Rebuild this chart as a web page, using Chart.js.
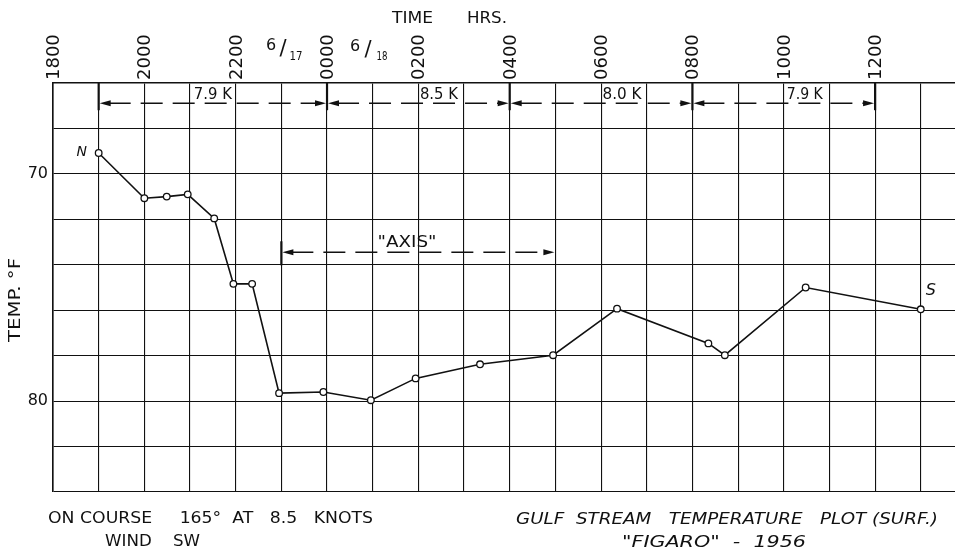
<!DOCTYPE html>
<html>
<head>
<meta charset="utf-8">
<script src="https://cdn.jsdelivr.net/npm/chart.js@4.4.1/dist/chart.umd.min.js"></script>
<style>
html,body{margin:0;padding:0;background:#fff;}
#wrap{width:955px;height:555px;position:relative;}
</style>
</head>
<body>
<div id="wrap"><canvas id="c"></canvas></div>
<script>
// ---- DATA ----
const hoursSince1800 = [1.0, 2.0, 2.49, 2.95, 3.53, 3.95, 4.36, 4.95, 5.92, 6.96, 7.94, 9.35, 10.95, 12.35, 14.35, 14.71, 16.48, 19.0];
const tempsF         = [69.08, 71.07, 71.0, 70.9, 71.96, 74.84, 74.84, 79.65, 79.6, 79.96, 79.0, 78.38, 77.98, 75.93, 77.46, 77.98, 75.0, 75.96];
const timeTickValues = [0,1,2,3,4,5,6,7,8,9,10,11,12,13,14,15,16,17,18,19];
const timeTickLabels = ['1800','','2000','','2200','','0000','','0200','','0400','','0600','','0800','','1000','','1200',''];
const tempTickValues = [66,68,70,72,74,76,78,80,82,84];
const tempTickLabels = ['','','70','','','','','80','',''];
const speedBandEdges  = [1, 6, 10, 14, 18];
const speedBandLabels = ['7.9 K', '8.5 K', '8.0 K', '7.9 K'];
const axisBandEdges   = [5, 11];
const axisBandLabel   = '"AXIS"';

// ---- helpers ----
const INK = '#111';
const FONT = '"DejaVu Sans", sans-serif';
function fitText(ctx, text, x, y, w, font, align) {
  ctx.save();
  ctx.font = font; ctx.textBaseline = 'middle'; ctx.textAlign = 'left'; ctx.fillStyle = INK;
  const m = ctx.measureText(text).width;
  const s = w ? w / m : 1;
  const tw = m * s;
  const x0 = align === 'left' ? x : (align === 'right' ? x - tw : x - tw / 2);
  ctx.translate(x0, y); ctx.scale(s, 1); ctx.fillText(text, 0, 0);
  ctx.restore();
}
function arrowHead(ctx, tipX, y, dir) {
  ctx.beginPath();
  ctx.moveTo(tipX, y);
  ctx.lineTo(tipX - dir * 11, y - 3);
  ctx.lineTo(tipX - dir * 11, y + 3);
  ctx.closePath(); ctx.fill();
}
function dashed(ctx, x1, x2, y) {
  ctx.save(); ctx.setLineDash([22, 10]); ctx.lineWidth = 1.4;
  ctx.beginPath(); ctx.moveTo(x1, y); ctx.lineTo(x2, y); ctx.stroke(); ctx.restore();
}
function vbar(ctx, x, y1, y2) {
  ctx.save(); ctx.lineWidth = 2.2; ctx.beginPath(); ctx.moveTo(x, y1); ctx.lineTo(x, y2); ctx.stroke(); ctx.restore();
}

const annotations = {
  id: 'annotations',
  afterDraw(chart) {
    const ctx = chart.ctx, xs = chart.scales.x, ys = chart.scales.y, area = chart.chartArea;
    ctx.save();
    ctx.strokeStyle = INK; ctx.fillStyle = INK;
    // speed bands
    const yb = ys.getPixelForValue(66.89);
    const labelShift = [0, 0.45, 0.46, 0.46];
    const labelWidth = [38, 38, 39, 36];
    for (let i = 0; i < speedBandLabels.length; i++) {
      const x1 = xs.getPixelForValue(speedBandEdges[i]);
      const x2 = xs.getPixelForValue(speedBandEdges[i + 1]);
      dashed(ctx, x1 + 10, x2 - 10, yb);
      arrowHead(ctx, x1 + 1, yb, -1);
      arrowHead(ctx, x2 - 1, yb, 1);
      const mid = (speedBandEdges[i] + speedBandEdges[i + 1]) / 2 + labelShift[i];
      fitText(ctx, speedBandLabels[i], xs.getPixelForValue(mid), yb - 8, labelWidth[i], '16px ' + FONT);
    }
    speedBandEdges.forEach(h => vbar(ctx, xs.getPixelForValue(h), area.top, yb + 7));
    // axis band
    const ya = ys.getPixelForValue(73.45);
    const ax1 = xs.getPixelForValue(axisBandEdges[0]);
    const ax2 = xs.getPixelForValue(axisBandEdges[1]);
    dashed(ctx, ax1 + 10, ax2 - 10, ya);
    vbar(ctx, ax1, ya - 11, ya + 13);
    arrowHead(ctx, ax1 + 1, ya, -1);
    arrowHead(ctx, ax2 - 1, ya, 1);
    fitText(ctx, axisBandLabel, xs.getPixelForValue(7.75), ys.getPixelForValue(73.03), 59, '16px ' + FONT);
    // N / S markers
    const n = hoursSince1800.length - 1;
    fitText(ctx, 'N', xs.getPixelForValue(hoursSince1800[0]) - 17, ys.getPixelForValue(tempsF[0]) - 1, 0, 'italic 14px ' + FONT);
    fitText(ctx, 'S', xs.getPixelForValue(hoursSince1800[n]) + 10, ys.getPixelForValue(tempsF[n]) - 18, 0, 'italic 16px ' + FONT);
    // top title
    fitText(ctx, 'TIME', 392, 19, 41, '16px ' + FONT, 'left');
    fitText(ctx, 'HRS.', 467, 19, 40, '16px ' + FONT, 'left');
    // dates
    fitText(ctx, '6', 271, 46, 0, '16px ' + FONT);
    fitText(ctx, '/', 283, 50, 0, '21px ' + FONT);
    fitText(ctx, '17', 296, 57, 13, '13px ' + FONT);
    fitText(ctx, '6', 355, 47, 0, '16px ' + FONT);
    fitText(ctx, '/', 368, 51, 0, '21px ' + FONT);
    fitText(ctx, '18', 382, 57, 11, '13px ' + FONT);
    // y title
    ctx.save(); ctx.translate(16, 300); ctx.rotate(-Math.PI / 2);
    fitText(ctx, 'TEMP. °F', 0, 0, 84, '15px ' + FONT);
    ctx.restore();
    // bottom notes
    fitText(ctx, 'ON COURSE     165°  AT   8.5   KNOTS', 48, 519, 325, '16px ' + FONT, 'left');
    fitText(ctx, 'WIND    SW', 105, 542, 95, '16px ' + FONT, 'left');
    fitText(ctx, 'GULF  STREAM   TEMPERATURE   PLOT (SURF.)', 516, 520, 422, 'italic 16px ' + FONT, 'left');
    fitText(ctx, '"FIGARO"  -  1956', 622, 543, 184, 'italic 16px ' + FONT, 'left');
    ctx.restore();
  }
};

const ctx = document.getElementById('c').getContext('2d');
new Chart(ctx, {
  type: 'line',
  data: {
    datasets: [{
      data: hoursSince1800.map((h, i) => ({ x: h, y: tempsF[i] })),
      borderColor: INK,
      borderWidth: 1.6,
      pointRadius: 3.3,
      pointBorderWidth: 1.3,
      pointBackgroundColor: '#fff',
      pointBorderColor: INK,
      tension: 0,
      clip: false
    }]
  },
  options: {
    responsive: true,
    maintainAspectRatio: false,
    animation: false,
    events: [],
    layout: { autoPadding: false, padding: { left: 0, right: 0, top: 0, bottom: 63 } },
    plugins: { legend: { display: false }, tooltip: { enabled: false }, title: { display: false } },
    scales: {
      x: {
        type: 'linear',
        position: 'top',
        min: 0, max: 19.75,
        afterBuildTicks: s => { s.ticks = timeTickValues.map(v => ({ value: v })); },
        afterFit: s => { s.height = 83; s.paddingLeft = 0; s.paddingRight = 0; },
        grid: { color: INK, lineWidth: 1.1, drawTicks: false },
        border: { color: INK, width: 1.6 },
        ticks: {
          autoSkip: false, minRotation: 90, maxRotation: 90, padding: 3, labelOffset: 23,
          color: INK, font: { family: FONT, size: 18 },
          callback: (v) => timeTickLabels[timeTickValues.indexOf(v)] || ''
        }
      },
      y: {
        type: 'linear',
        reverse: true,
        min: 66, max: 84,
        afterBuildTicks: s => { s.ticks = tempTickValues.map(v => ({ value: v })); },
        afterFit: s => { s.width = 53; s.paddingTop = 0; s.paddingBottom = 0; },
        grid: { color: INK, lineWidth: 1.1, drawTicks: false },
        border: { color: INK, width: 1.6 },
        ticks: {
          autoSkip: false, padding: 5,
          color: INK, font: { family: FONT, size: 16 },
          callback: (v) => tempTickLabels[tempTickValues.indexOf(v)] || ''
        }
      }
    }
  },
  plugins: [annotations]
});
</script>
</body>
</html>
